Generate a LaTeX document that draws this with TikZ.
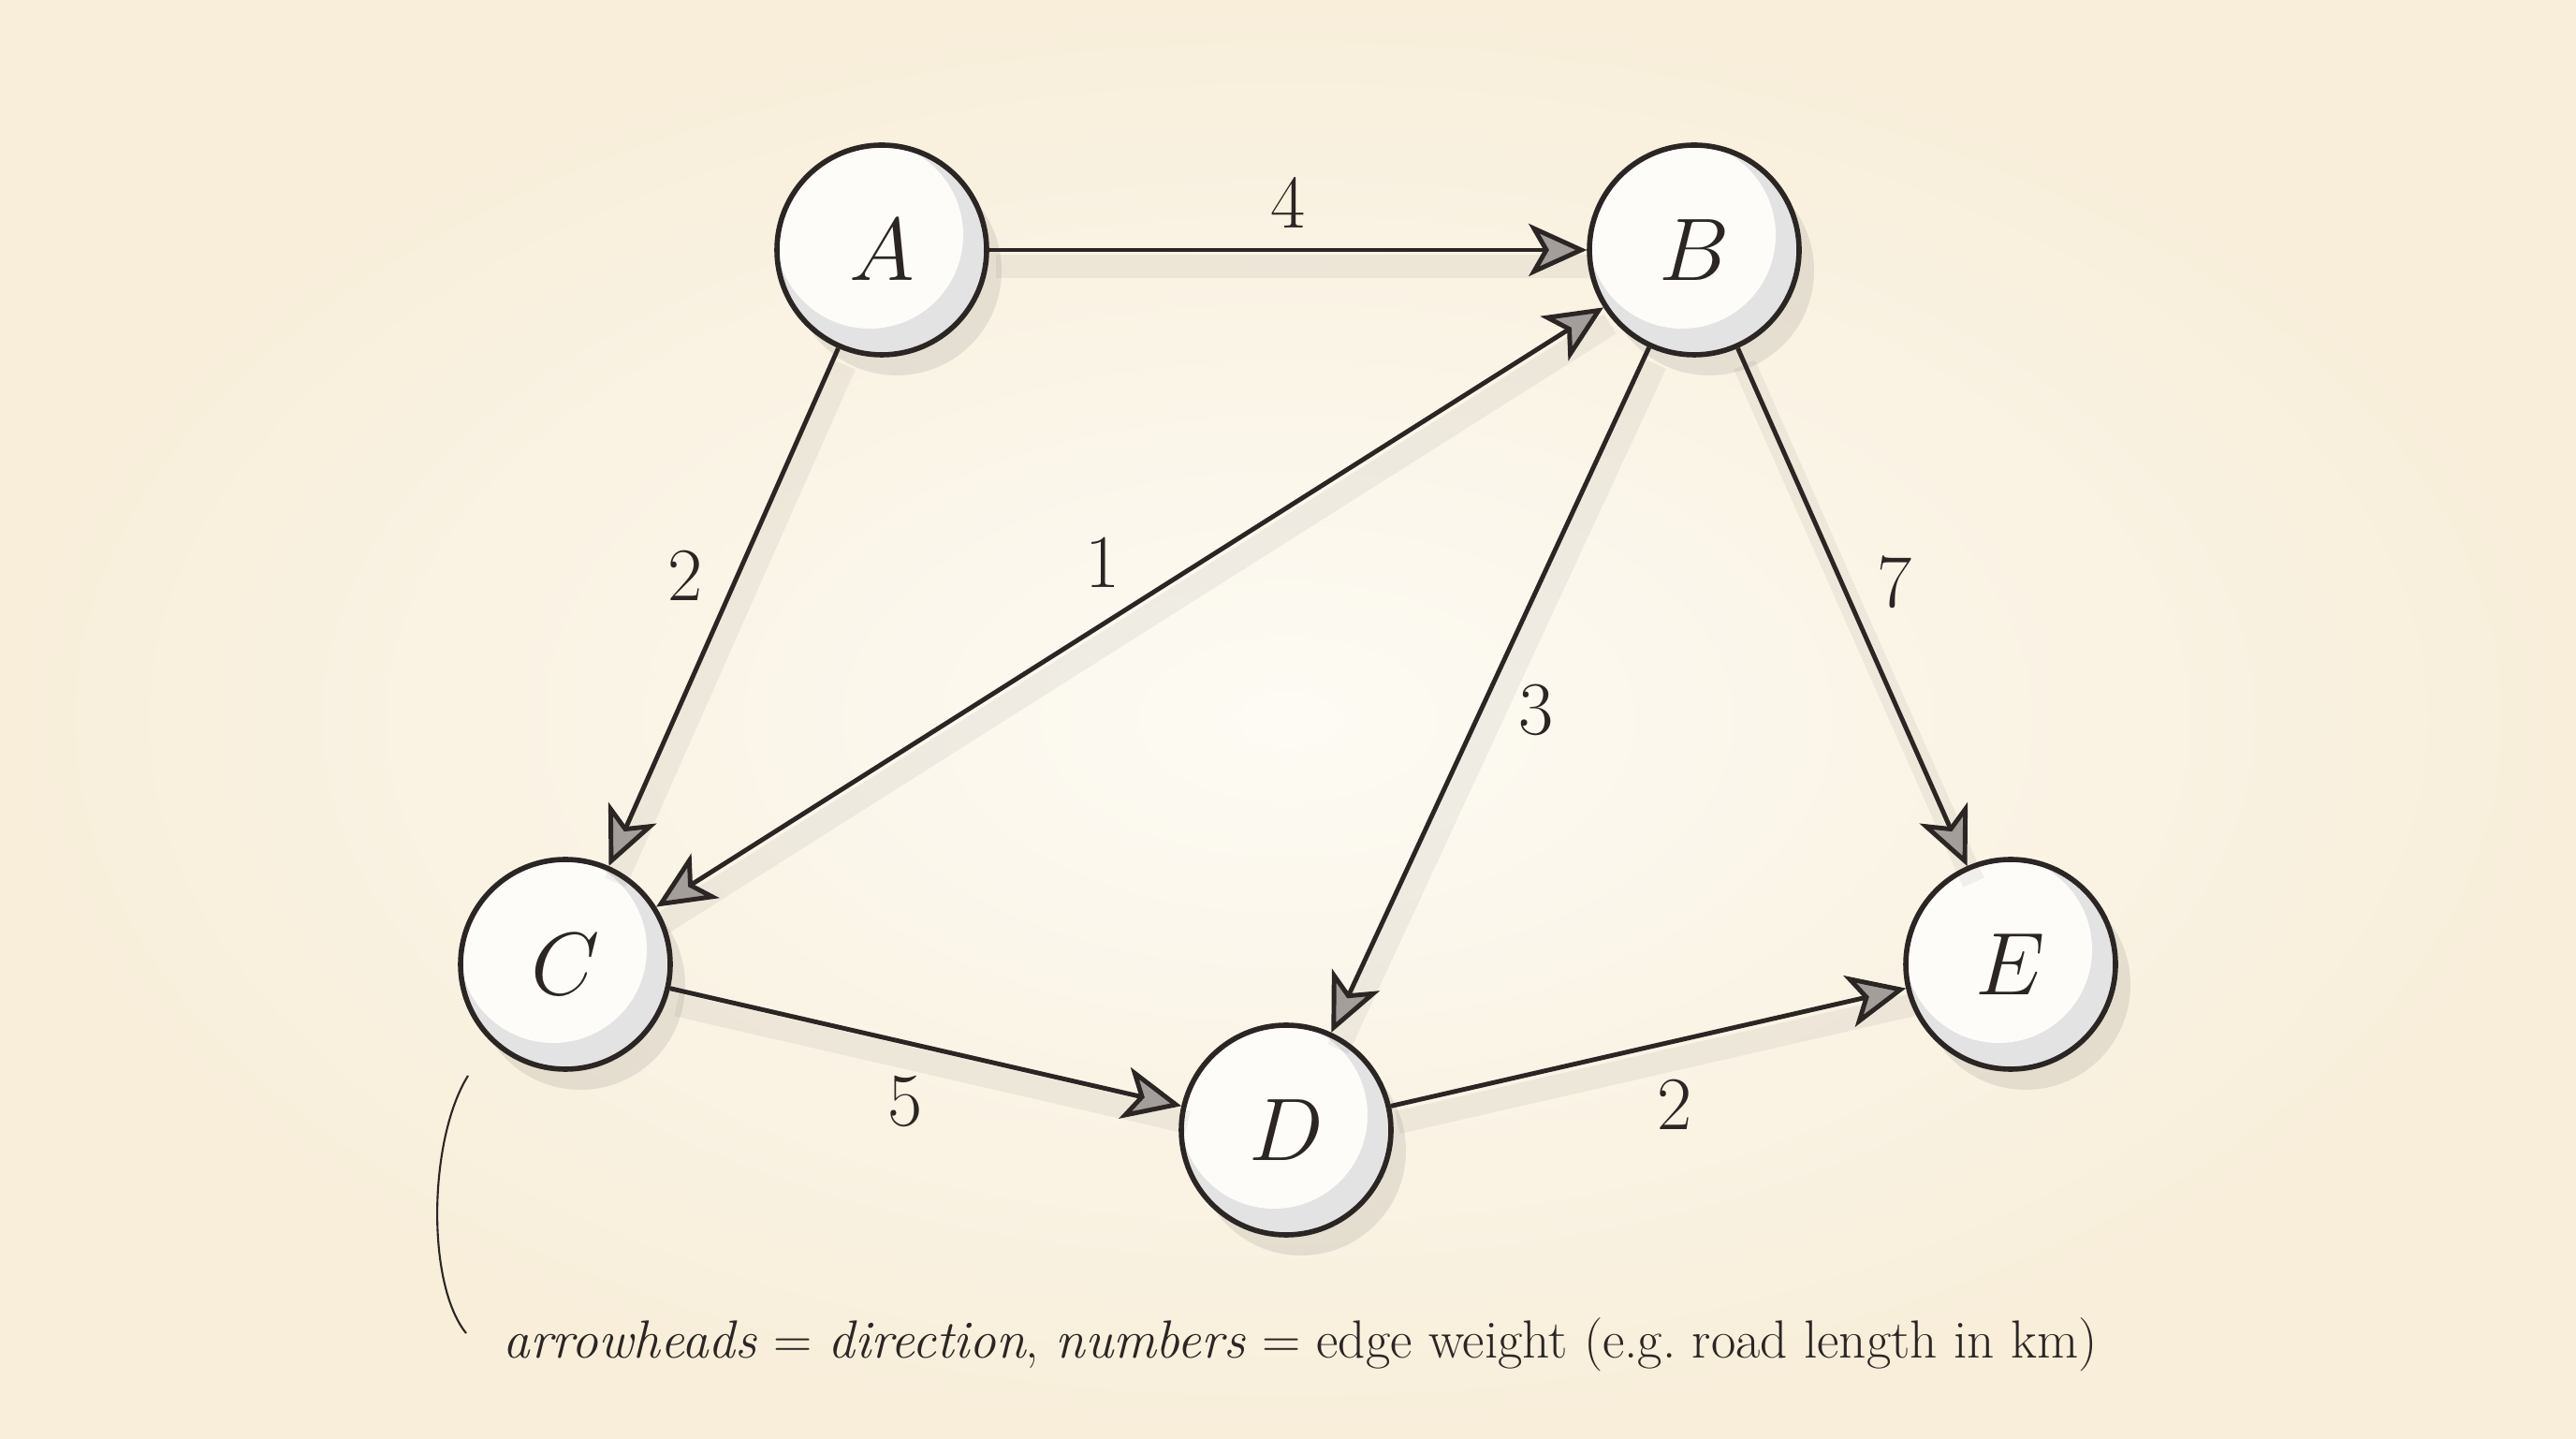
\RequirePackage{fix-cm}
\documentclass[tikz,border=0pt]{standalone}
\usepackage{tikz}
\usetikzlibrary{arrows.meta,positioning,shadows}

\definecolor{ink}{HTML}{2B2623}
\definecolor{paper}{HTML}{FDFBF4}
\definecolor{paperedge}{HTML}{F8EEDA}
\definecolor{tipgray}{HTML}{A39E99}
\definecolor{nodewhite}{HTML}{FDFCF8}

\begin{document}
\begin{tikzpicture}[
  on grid,
  >={Stealth[length=6.2mm,width=5.6mm,inset=1.6mm,fill=tipgray]},
  vtx/.style={circle,draw=ink,line width=1.6pt,minimum size=2.24cm,inner sep=0pt,
    fill=nodewhite,text=ink,font=\fontsize{27}{32}\selectfont,
    drop shadow={shadow xshift=0.16cm,shadow yshift=-0.22cm,opacity=0.14,fill=black!60},
    path picture={
      \fill[black!11] (path picture bounding box.center) circle (1.2cm);
      \fill[nodewhite] ([shift={(-0.13cm,0.16cm)}]path picture bounding box.center) circle (1.0cm);
    }},
  arr/.style={->,draw=ink,line width=1.4pt,
    preaction={draw=ink,draw opacity=0.06,line width=7pt,-,transform canvas={xshift=2pt,yshift=-5pt}}},
  wt/.style={text=ink,font=\fontsize{23}{26}\selectfont},
]
  % paper
  \shade[inner color=paper,outer color=paperedge] (0,0) rectangle (27.52,15.36);
  \useasboundingbox (0,0) rectangle (27.52,15.36);

  % vertices
  \node[vtx] (A) at (9.42,12.69) {$A$};
  \node[vtx,right=8.68cm of A] (B) {$B$};
  \node[vtx,below left=7.63cm and 3.38cm of A] (C) {$C$};
  \node[vtx,below right=1.77cm and 7.70cm of C] (D) {$D$};
  \node[vtx,right=15.44cm of C] (E) {$E$};

  % weighted edges
  \draw[arr] (A) -- node[wt,midway,yshift=0.51cm]{4} (B);
  \draw[arr] (A) -- node[wt,midway,shift={(-0.41,0.34)}]{2} (C);
  \draw[arr,<->] (C) -- node[wt,midway,shift={(-0.29,0.48)}]{1} (B);
  \draw[arr] (B) -- node[wt,midway,shift={(0.49,-0.21)}]{3} (D);
  \draw[arr] (B) -- node[wt,midway,shift={(0.45,0.27)}]{7} (E);
  \draw[arr] (C) -- node[wt,midway,shift={(-0.22,-0.58)}]{5} (D);
  \draw[arr] (D) -- node[wt,midway,shift={(0.28,-0.61)}]{2} (E);

  % note
  \node[text=ink,font=\fontsize{16.3}{19}\selectfont] (note) at (13.89,1.0)
    {\textit{arrowheads} = \textit{direction}, \textit{numbers} = edge weight (e.g.\ road length in km)};
  \coordinate (cu) at (5.0,3.87);
  \coordinate (cl) at (4.98,1.12);
  \draw[ink,line width=0.6pt] (cu) .. controls (4.58,3.2) and (4.55,1.65) .. (cl);
\end{tikzpicture}
\end{document}
